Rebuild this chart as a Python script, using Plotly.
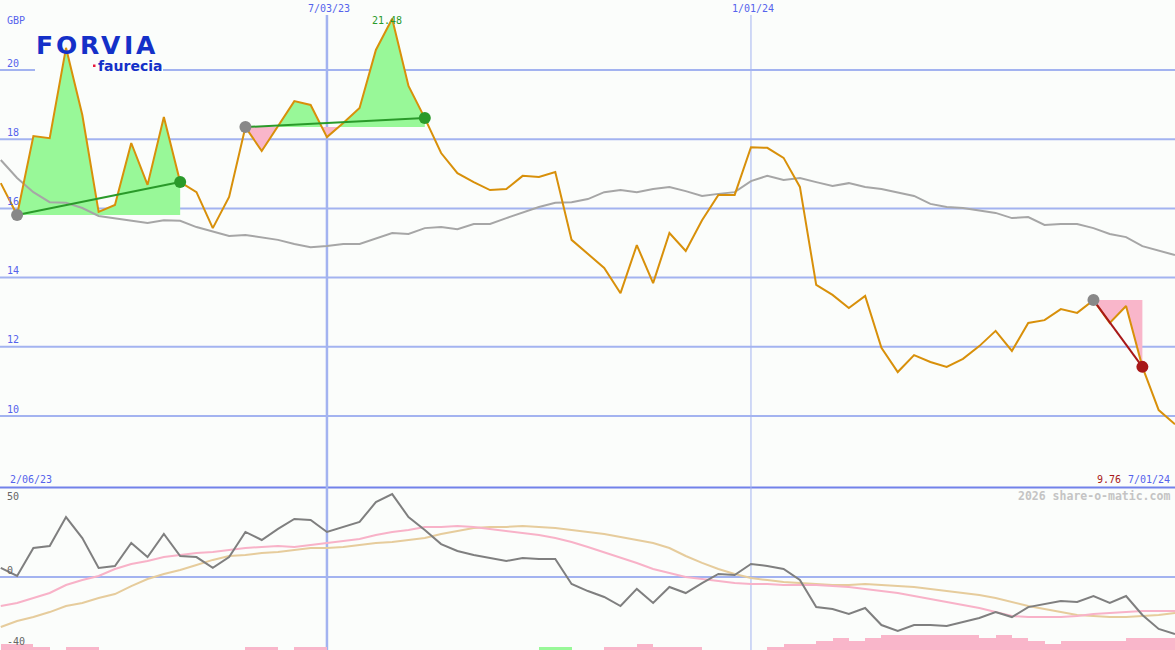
import plotly.graph_objects as go
import pandas as pd

W, H = 1175, 650

# ---------------- data ----------------
dates = pd.date_range("2023-02-13", periods=73, freq="7D")

price = [16.73, 15.81, 18.09, 18.03, 20.64, 18.70, 15.90, 16.10, 17.89, 16.68,
         18.64, 16.76, 16.47, 15.43, 16.33, 18.35, 17.66, 18.38, 19.10, 18.99,
         18.06, 18.47, 18.90, 20.58, 21.48, 19.54, 18.61, 17.60, 17.02, 16.76,
         16.53, 16.56, 16.94, 16.91, 17.05, 15.09, 14.68, 14.28, 13.55, 14.94,
         13.84, 15.29, 14.77, 15.66, 16.39, 16.39, 17.77, 17.75, 17.46, 16.62,
         13.79, 13.50, 13.12, 13.47, 11.97, 11.27, 11.76, 11.56, 11.42, 11.65,
         12.02, 12.46, 11.88, 12.69, 12.77, 13.09, 12.98, 13.35, 12.69, 13.18,
         11.42, 10.17, 9.76]

moving_avg = [17.40, 16.88, 16.47, 16.18, 16.16, 16.01, 15.78, 15.72, 15.66, 15.58,
              15.66, 15.64, 15.46, 15.32, 15.20, 15.23, 15.17, 15.09, 14.97, 14.88,
              14.91, 14.97, 14.97, 15.12, 15.29, 15.26, 15.43, 15.46, 15.40, 15.55,
              15.55, 15.72, 15.87, 16.04, 16.16, 16.18, 16.27, 16.47, 16.53, 16.47,
              16.56, 16.62, 16.50, 16.36, 16.42, 16.47, 16.79, 16.94, 16.82, 16.88,
              16.76, 16.65, 16.73, 16.62, 16.56, 16.47, 16.36, 16.13, 16.04, 16.01,
              15.95, 15.87, 15.72, 15.75, 15.52, 15.55, 15.55, 15.43, 15.26, 15.17,
              14.91, 14.77, 14.65]

oscillator = [5.1, 0.6, 16.3, 17.4, 33.7, 21.9, 5.1, 6.2, 19.1, 11.2,
              24.2, 11.8, 11.2, 5.1, 11.2, 25.3, 20.8, 27.0, 32.6, 32.0,
              25.3, 28.1, 30.9, 42.1, 46.6, 33.7, 26.4, 18.5, 14.6, 12.4,
              10.7, 9.0, 10.7, 10.1, 10.1, -3.9, -7.9, -11.2, -16.3, -6.7,
              -14.6, -5.6, -9.0, -3.4, 1.7, 1.1, 7.3, 6.2, 4.5, -1.7,
              -16.9, -18.0, -20.8, -17.4, -27.0, -30.3, -27.0, -27.0, -27.5, -25.3,
              -23.0, -19.7, -22.5, -16.9, -15.2, -13.5, -14.0, -10.7, -14.6, -10.7,
              -21.3, -29.2, -32.0]

osc_fast = [-16.3, -14.6, -11.8, -9.0, -4.5, -1.7, 0.6, 4.5, 7.3, 9.0,
            11.2, 12.4, 13.5, 14.0, 15.2, 16.3, 16.9, 17.4, 16.9, 18.0,
            19.1, 20.2, 21.3, 23.6, 25.3, 26.4, 28.1, 28.1, 28.7, 28.1,
            27.0, 25.8, 24.7, 23.6, 21.9, 19.7, 16.9, 14.0, 10.7, 7.9,
            4.5, 2.2, 0.0, -1.1, -2.2, -3.4, -3.9, -3.9, -4.5, -4.5,
            -4.5, -5.1, -5.6, -6.7, -7.9, -9.0, -10.7, -12.4, -14.0, -15.7,
            -17.4, -19.7, -21.9, -22.5, -22.5, -22.5, -21.9, -20.8, -20.2, -19.7,
            -19.1, -19.1, -19.1]

osc_slow = [-28.1, -24.7, -22.5, -19.7, -16.3, -14.6, -11.8, -9.6, -5.1, -1.1,
            1.7, 3.9, 6.7, 9.6, 11.8, 12.4, 13.5, 14.0, 15.2, 16.3,
            16.3, 16.9, 18.0, 19.1, 19.7, 20.8, 21.9, 24.2, 25.8, 27.5,
            28.1, 28.1, 28.7, 28.1, 27.5, 26.4, 25.3, 24.2, 22.5, 20.8,
            19.1, 16.3, 11.8, 7.9, 4.5, 1.7, -0.6, -1.7, -2.8, -3.4,
            -3.9, -4.5, -4.5, -3.9, -4.5, -5.1, -5.6, -6.7, -7.9, -9.0,
            -10.1, -11.8, -14.0, -16.3, -18.0, -19.7, -21.3, -21.9, -22.5, -22.5,
            -21.9, -21.3, -20.2]

# signed streak bars (positive = up / green, negative = down / pink)
streak = [-2, -2, -1, 0, -1, -1, 0, 0, 0, 0,
          0, 0, 0, 0, 0, -1, -1, 0, -1, -1,
          0, 0, 0, 0, 0, 0, 0, 0, 0, 0,
          0, 0, 0, 1, 1, 0, 0, -1, -1, -2,
          -1, -1, -1, 0, 0, 0, 0, -1, -2, -2,
          -3, -4, -3, -4, -5, -5, -5, -5, -5, -5,
          -4, -5, -4, -3, -2, -3, -3, -3, -3, -4,
          -4, -4, 0]

# trend annotations: (start index, end index)
trends = [(1, 11), (15, 26), (67, 70)]

y_ticks = [20, 18, 16, 14, 12, 10]
osc_labels = ["50", "0", "-40"]
peak_label = "21.48"
start_label = "2/06/23"
end_label = "7/01/24"
last_label = "9.76"
vlines = [("2023-07-03", "7/03/23", 2.5), ("2024-01-01", "1/01/24", 1)]

# ---------------- style ----------------
BG = "#fbfdfb"
GRID = "#a3b3f0"
BLUE_TXT = "#5563ec"
ORANGE = "#d8900a"
MA_GRAY = "#a6a6a6"
OSC_GRAY = "#7f7f7f"
PINK = "#f9b6ca"
PINK_LINE = "#f8b2c8"
TAN = "#e6cc9c"
LGREEN = "#98f898"
DGREEN = "#2a9a2a"
DRED = "#a81818"
MONO = "DejaVu Sans Mono"


def px(x):
    return x / W


def py(y):
    return 1 - y / H


fig = go.Figure()

# ---- lower panel bars ----
fig.add_trace(go.Bar(
    x=dates, y=[abs(s) for s in streak], yaxis="y3",
    marker=dict(color=[LGREEN if s > 0 else PINK for s in streak], line=dict(width=0)),
    offset=0, width=7 * 86400000, hoverinfo="skip", showlegend=False))


# ---- fills for trend annotations ----
def split_fill(i0, i1, base, above):
    xs, ys = [], []
    for i in range(i0, i1 + 1):
        p = price[i]
        if i > i0:
            pp = price[i - 1]
            if (pp - base) * (p - base) < 0:
                f = (base - pp) / (p - pp)
                xs.append(dates[i - 1] + (dates[i] - dates[i - 1]) * f)
                ys.append(base)
        xs.append(dates[i])
        ys.append(max(p, base) if above else min(p, base))
    xs += [dates[i1], dates[i0]]
    ys += [base, base]
    return xs, ys


for i0, i1 in trends:
    base = price[i0]
    for above, col in ((True, LGREEN), (False, PINK)):
        xs, ys = split_fill(i0, i1, base, above)
        fig.add_trace(go.Scatter(x=xs, y=ys, mode="lines", fill="toself",
                                 fillcolor=col, line=dict(width=0),
                                 hoverinfo="skip", showlegend=False))

# ---- main lines ----
fig.add_trace(go.Scatter(x=dates, y=moving_avg, mode="lines",
                         line=dict(color=MA_GRAY, width=2), hoverinfo="skip", showlegend=False))
fig.add_trace(go.Scatter(x=dates, y=price, mode="lines",
                         line=dict(color=ORANGE, width=2), hoverinfo="skip", showlegend=False))

for i0, i1 in trends:
    up = price[i1] >= price[i0]
    col = DGREEN if up else DRED
    fig.add_trace(go.Scatter(x=[dates[i0], dates[i1]], y=[price[i0], price[i1]], mode="lines",
                             line=dict(color=col, width=2), hoverinfo="skip", showlegend=False))
    fig.add_trace(go.Scatter(x=[dates[i0]], y=[price[i0]], mode="markers",
                             marker=dict(color="#888888", size=12, line=dict(width=0)),
                             hoverinfo="skip", showlegend=False))
    fig.add_trace(go.Scatter(x=[dates[i1]], y=[price[i1]], mode="markers",
                             marker=dict(color=col, size=12, line=dict(width=0)),
                             hoverinfo="skip", showlegend=False))

# ---- lower panel lines ----
fig.add_trace(go.Scatter(x=dates, y=osc_slow, mode="lines", yaxis="y2",
                         line=dict(color=TAN, width=2), hoverinfo="skip", showlegend=False))
fig.add_trace(go.Scatter(x=dates, y=osc_fast, mode="lines", yaxis="y2",
                         line=dict(color=PINK_LINE, width=2), hoverinfo="skip", showlegend=False))
fig.add_trace(go.Scatter(x=dates, y=oscillator, mode="lines", yaxis="y2",
                         line=dict(color=OSC_GRAY, width=2), hoverinfo="skip", showlegend=False))

# ---------------- shapes ----------------
shapes = []
for v in y_ticks:
    shapes.append(dict(type="line", xref="paper", yref="y", x0=0, x1=1, y0=v, y1=v,
                       line=dict(color=GRID, width=2), layer="below"))
# logo background hides the gridline behind it
shapes.append(dict(type="rect", xref="paper", yref="paper", x0=px(35), x1=px(163),
                   y0=py(77), y1=py(30), fillcolor=BG, line=dict(width=0), layer="below"))
# lower zero line
shapes.append(dict(type="line", xref="paper", yref="y2", x0=0, x1=1, y0=0, y1=0,
                   line=dict(color=GRID, width=2), layer="below"))
# panel separator
shapes.append(dict(type="line", xref="paper", yref="paper", x0=0, x1=1, y0=py(487.5), y1=py(487.5),
                   line=dict(color="#7282ea", width=2), layer="below"))
for d, _, w in vlines:
    shapes.append(dict(type="line", xref="x", yref="paper", x0=d, x1=d, y0=0, y1=py(15),
                       line=dict(color=GRID, width=w), layer="below"))
# faurecia red dot
shapes.append(dict(type="rect", xref="paper", yref="paper", x0=px(93), x1=px(95.5),
                   y0=py(67), y1=py(64.5), fillcolor="#e8183c", line=dict(width=0)))

# ---------------- annotations ----------------
ann = []


def txt(text, x, y, color, size=10, xanchor="left", bold=False, family=MONO):
    ann.append(dict(text=text, xref="paper", yref="paper", x=px(x), y=py(y),
                    xanchor=xanchor, yanchor="middle", showarrow=False,
                    font=dict(family=family, size=size, color=color,
                              weight="bold" if bold else "normal")))


txt("GBP", 5, 21, BLUE_TXT)
for v in y_ticks:
    ann.append(dict(text=str(v), xref="paper", yref="y", x=px(5), y=v, yshift=7,
                    xanchor="left", yanchor="middle", showarrow=False,
                    font=dict(family=MONO, size=10, color=BLUE_TXT)))
for lab, ypx in zip(osc_labels, [496, 570, 641]):
    txt(lab, 5, ypx, "#666666")
for d, lab, _ in vlines:
    ann.append(dict(text=lab, xref="x", yref="paper", x=d, y=py(8), xshift=2,
                    xanchor="center", yanchor="middle", showarrow=False,
                    font=dict(family=MONO, size=10, color=BLUE_TXT)))
txt(start_label, 8, 479, BLUE_TXT)
txt(end_label, 1172, 479, BLUE_TXT, xanchor="right")
txt(last_label, 1123, 479, DRED, xanchor="right")
txt("2026 share-o-matic.com", 1172, 496, "#c4c4c4", size=11.5, xanchor="right", bold=True)

# peak value label
imax = price.index(max(price))
ann.append(dict(text=peak_label, xref="x", yref="y", x=dates[imax], y=price[imax],
                xshift=-5, yshift=-2, xanchor="center", yanchor="middle", showarrow=False,
                font=dict(family=MONO, size=10, color=DGREEN)))

# logo
LOGO = "#1430c8"
for ch, cx in zip("FORVIA", [44, 66.5, 89, 111, 128, 146]):
    ann.append(dict(text=ch, xref="paper", yref="paper", x=px(cx), y=py(45.5),
                    xanchor="center", yanchor="middle", showarrow=False,
                    font=dict(family="DejaVu Sans", size=25, color=LOGO, weight="bold")))
ann.append(dict(text="faurecia", xref="paper", yref="paper", x=px(96), y=py(66),
                xanchor="left", yanchor="middle", showarrow=False,
                font=dict(family="DejaVu Sans", size=14, color=LOGO, weight="bold")))

# ---------------- layout ----------------
x_start = dates[0] - pd.Timedelta(hours=8)
x_end = dates[-1]

fig.update_layout(
    width=W, height=H, margin=dict(l=0, r=0, t=0, b=0),
    paper_bgcolor=BG, plot_bgcolor=BG, showlegend=False, bargap=0,
    xaxis=dict(type="date", range=[x_start, x_end], visible=False, fixedrange=True),
    yaxis=dict(domain=[py(487), 1], range=[7.948, 22.023], visible=False, fixedrange=True),
    yaxis2=dict(domain=[0, py(489)], range=[-41.01, 49.44], visible=False, fixedrange=True),
    yaxis3=dict(overlaying="y2", range=[0, 161 / 3], visible=False, fixedrange=True),
    shapes=shapes, annotations=ann,
)

fig.write_html(
    "out.html",
    config={"displayModeBar": False, "staticPlot": True},
    post_script="document.body.style.margin='0';document.body.style.padding='0';"
                "document.body.style.background='" + BG + "';",
)
